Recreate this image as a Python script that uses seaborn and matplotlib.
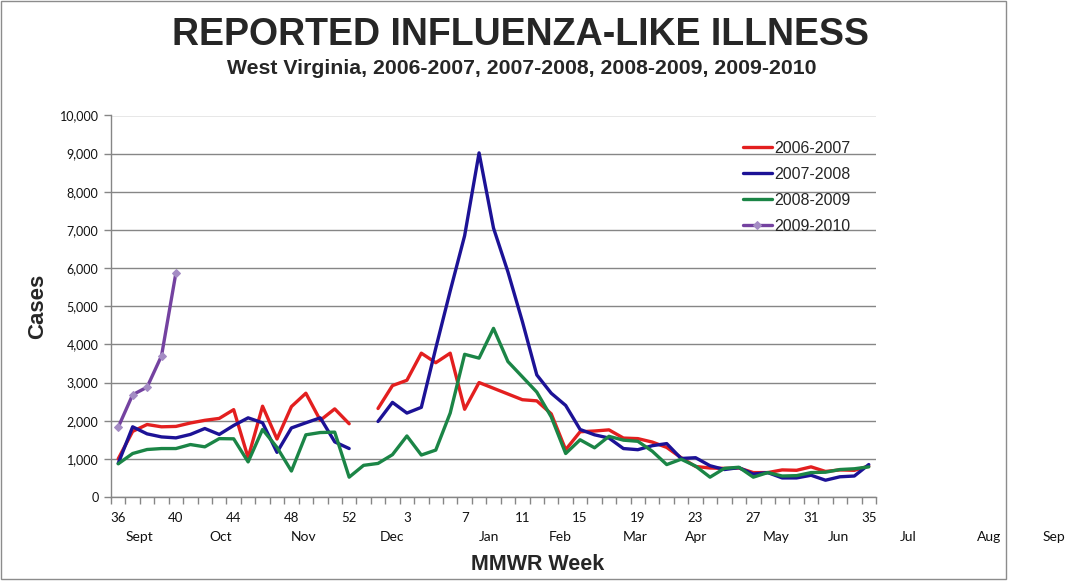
import numpy as np
import pandas as pd
import matplotlib
matplotlib.use("Agg")
import matplotlib.pyplot as plt
from matplotlib.patches import Rectangle
from matplotlib.ticker import FuncFormatter, FixedLocator
import seaborn as sns

nan = np.nan

# MMWR weeks, 36..53 then 1..35
weeks = list(range(36, 54)) + list(range(1, 36))

s2006 = [1000, 1720, 1900, 1840, 1850, 1940, 2010, 2060, 2290, 1030, 2380, 1520, 2370, 2720, 2010, 2310, 1920,
         nan,
         2320, 2920, 3060, 3770, 3520, 3770, 2300, 3000, 2850, 2700, 2550, 2520, 2180, 1240, 1710, 1730, 1760,
         1545, 1530, 1440, 1300, 1030, 800, 760, 750, 760, 640, 640, 710, 700, 790, 670, 710, 700, 810]
s2007 = [880, 1840, 1655, 1575, 1550, 1640, 1795, 1640, 1875, 2075, 1945, 1170, 1810, 1945, 2075, 1445, 1270,
         nan,
         1980, 2480, 2200, 2350, 3900, 5400, 6850, 9020, 7050, 5900, 4600, 3200, 2720, 2400, 1770, 1630, 1545,
         1270, 1240, 1345, 1400, 1010, 1030, 820, 720, 770, 600, 640, 500, 500, 570, 440, 530, 550, 850]
s2008 = [870, 1140, 1245, 1270, 1270, 1375, 1315, 1530, 1525, 920, 1770, 1300, 680, 1630, 1690, 1700, 520,
         830,
         880, 1110, 1600, 1100, 1230, 2200, 3740, 3640, 4420, 3550, 3150, 2750, 2100, 1140, 1500, 1290, 1590,
         1490, 1460, 1200, 850, 990, 810, 520, 750, 780, 520, 640, 550, 560, 640, 650, 720, 740, 790]
s2009 = [1830, 2680, 2880, 3700, 5880]

seasons = ["2006-2007", "2007-2008", "2008-2009", "2009-2010"]
colors = ["#e31f1f", "#1c1296", "#1b8546", "#7442a0"]

months = ["Sept", "Oct", "Nov", "Dec", "Jan", "Feb", "Mar", "Apr", "May", "Jun", "Jul", "Aug", "Sep"]
month_pos = [1.45, 7.1, 12.85, 19.0, 25.7, 30.6, 35.85, 40.05, 45.6, 49.9, 54.7, 60.3, 64.8]

sns.set_style("white")
plt.rcParams["font.family"] = ["Liberation Sans", "DejaVu Sans"]

W, H = 1076, 583
fig = plt.figure(figsize=(W / 100, H / 100), dpi=100)
ax = fig.add_axes([111 / W, 1 - 497 / H, (876 - 111) / W, (497 - 115.5) / H])

# chart border
fig.add_artist(Rectangle((1 / W, 4 / H), 1005 / W, 578 / H, transform=fig.transFigure,
                         fill=False, edgecolor="#8c8c8c", lw=1))

idx = np.arange(len(weeks))


def segments(vals):
    # split a series into runs without gaps
    vals = np.asarray(vals, dtype=float)
    out, cur = [], []
    for i, v in enumerate(vals):
        if np.isnan(v):
            if cur:
                out.append(cur)
            cur = []
        else:
            cur.append(i)
    if cur:
        out.append(cur)
    return [(np.array(c), vals[c]) for c in out]


lw = 2.4
for name, vals, col in zip(seasons[:3], [s2006, s2007, s2008], colors[:3]):
    for k, (xs, ys) in enumerate(segments(vals)):
        sns.lineplot(x=xs, y=ys, ax=ax, color=col, lw=lw, label=name if k == 0 else None)

sns.lineplot(x=idx[:len(s2009)], y=s2009, ax=ax, color=colors[3], lw=lw, marker="D",
             markersize=4.5, markerfacecolor="#a48cc4", markeredgecolor="#a48cc4", label=seasons[3])

ax.set_xlim(-0.5, len(weeks) - 0.5)
ax.set_ylim(0, 10000)

ax.yaxis.set_major_locator(FixedLocator(np.arange(0, 10001, 1000)))
ax.yaxis.set_major_formatter(FuncFormatter(lambda v, p: f"{int(v):,}"))
ax.grid(axis="y", color="#868686", lw=1)
ax.set_axisbelow(True)

ax.set_xticks(idx[::4])
ax.set_xticklabels([str(w) for w in weeks[::4]])
ax.set_xticks(np.arange(-0.5, len(weeks), 1), minor=True)
ax.tick_params(axis="x", which="major", length=0, pad=11, labelsize=9.5, labelcolor="#111111")
ax.tick_params(axis="x", which="minor", length=5, width=1, color="#868686", direction="out", bottom=True)
ax.tick_params(axis="y", length=5, width=1, color="#868686", direction="out", left=True, pad=4,
               labelsize=9, labelcolor="#111111")
for lab in ax.get_xticklabels() + ax.get_yticklabels():
    lab.set_family(["Lato", "DejaVu Sans"])

for s in ["top", "right"]:
    ax.spines[s].set_visible(False)
for s in ["left", "bottom"]:
    ax.spines[s].set_color("#868686")
    ax.spines[s].set_linewidth(1)

ax.set_xlabel("")
ax.set_ylabel("")

tr = ax.get_xaxis_transform()
for m, p in zip(months, month_pos):
    ax.text(p, -(537 - 497) / 381.5, m, transform=tr, ha="center", va="center",
            fontsize=10, family=["Lato", "DejaVu Sans"], color="#111111", clip_on=False)

fig.text(521 / W, 1 - 35 / H, "REPORTED INFLUENZA-LIKE ILLNESS", ha="center", va="center",
         fontsize=27, fontweight="bold")
fig.text(522 / W, 1 - 68 / H, "West Virginia, 2006-2007, 2007-2008, 2008-2009, 2009-2010",
         ha="center", va="center", fontsize=15.3, fontweight="bold")
fig.text(38 / W, 1 - 306 / H, "Cases", rotation=90, ha="center", va="center",
         fontsize=16, fontweight="bold")
fig.text(538 / W, 1 - 565 / H, "MMWR Week", ha="center", va="center",
         fontsize=15.5, fontweight="bold")

ax.legend(loc="upper left", bbox_to_anchor=(743 / W, 1 - 141 / H), bbox_transform=fig.transFigure,
          frameon=False, prop={"family": "Liberation Sans", "size": 11.5}, handlelength=1.8,
          handletextpad=0.15, labelspacing=0.68, borderpad=0, borderaxespad=0)

fig.savefig("out.png", dpi=100)
